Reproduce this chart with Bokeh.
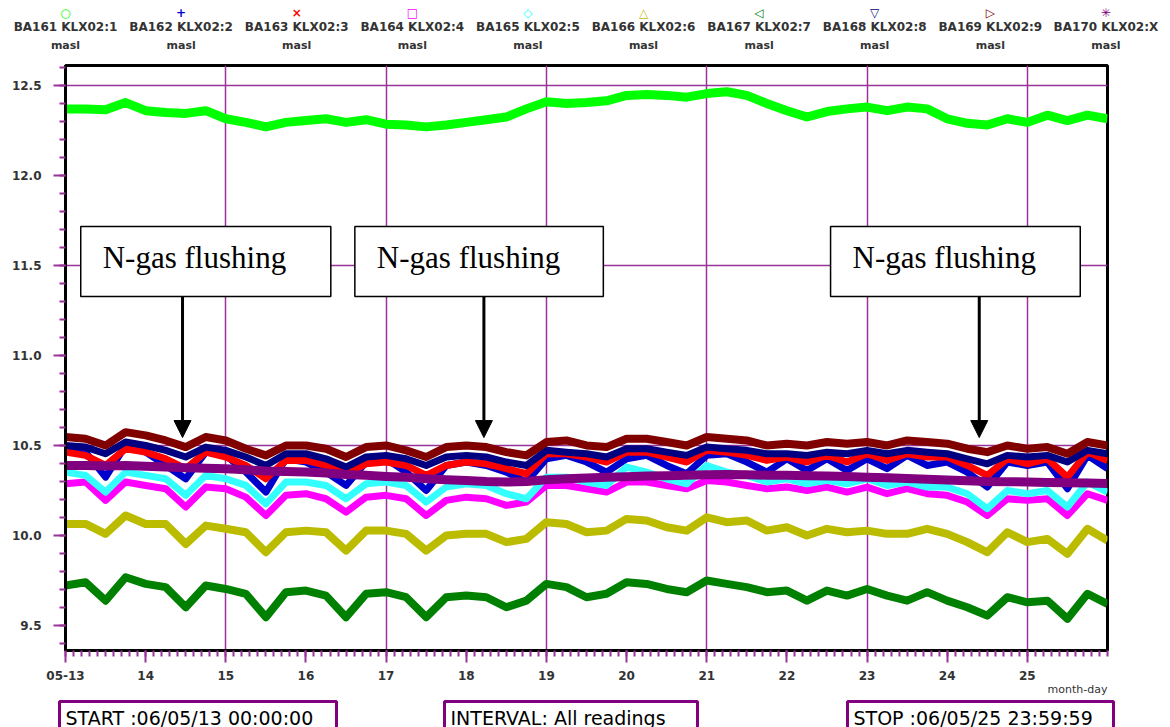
import numpy as np
from bokeh.plotting import figure
from bokeh.layouts import column
from bokeh.models import Range1d, FixedTicker, BoxAnnotation, Label, Arrow, NormalHead
from bokeh.embed import file_html
from bokeh.resources import INLINE

# ---------------- data (day of May 2006, every 6 hours) ----------------
days = list(np.arange(13.0, 26.001, 0.25))

ba161 = [12.37, 12.37, 12.365, 12.405, 12.36, 12.35, 12.345, 12.36, 12.315, 12.295,
         12.27, 12.295, 12.305, 12.315, 12.295, 12.31, 12.285, 12.28, 12.27, 12.28,
         12.295, 12.31, 12.325, 12.37, 12.41, 12.40, 12.405, 12.415, 12.445, 12.45,
         12.445, 12.435, 12.455, 12.465, 12.445, 12.40, 12.36, 12.325, 12.355, 12.37,
         12.38, 12.36, 12.38, 12.37, 12.315, 12.29, 12.28, 12.315, 12.295, 12.335,
         12.305, 12.335, 12.315]
ba162 = [10.491, 10.463, 10.324, 10.500, 10.463, 10.389, 10.315, 10.463, 10.445, 10.352,
         10.241, 10.426, 10.408, 10.352, 10.278, 10.408, 10.426, 10.352, 10.250, 10.389,
         10.408, 10.389, 10.352, 10.297, 10.426, 10.445, 10.408, 10.352, 10.426, 10.445,
         10.389, 10.343, 10.445, 10.454, 10.408, 10.352, 10.426, 10.361, 10.426, 10.361,
         10.426, 10.371, 10.445, 10.389, 10.408, 10.352, 10.269, 10.408, 10.389, 10.408,
         10.260, 10.445, 10.371]
ba163 = [10.463, 10.445, 10.389, 10.482, 10.463, 10.426, 10.371, 10.463, 10.436, 10.389,
         10.315, 10.417, 10.417, 10.389, 10.343, 10.398, 10.408, 10.389, 10.334, 10.389,
         10.408, 10.398, 10.371, 10.343, 10.454, 10.454, 10.436, 10.408, 10.463, 10.463,
         10.436, 10.408, 10.473, 10.463, 10.445, 10.417, 10.436, 10.408, 10.445, 10.408,
         10.454, 10.417, 10.454, 10.436, 10.436, 10.389, 10.334, 10.426, 10.398, 10.426,
         10.324, 10.463, 10.417]
ba164 = [10.287, 10.297, 10.195, 10.297, 10.278, 10.260, 10.158, 10.269, 10.260, 10.213,
         10.111, 10.223, 10.232, 10.204, 10.130, 10.213, 10.223, 10.204, 10.111, 10.195,
         10.213, 10.204, 10.167, 10.186, 10.278, 10.278, 10.260, 10.241, 10.297, 10.297,
         10.278, 10.260, 10.306, 10.297, 10.278, 10.260, 10.269, 10.250, 10.269, 10.241,
         10.269, 10.232, 10.260, 10.232, 10.223, 10.186, 10.111, 10.204, 10.195, 10.204,
         10.111, 10.232, 10.195]
ba165 = [10.352, 10.334, 10.241, 10.352, 10.334, 10.315, 10.223, 10.334, 10.315, 10.278,
         10.176, 10.297, 10.297, 10.278, 10.204, 10.287, 10.297, 10.278, 10.186, 10.269,
         10.287, 10.278, 10.232, 10.204, 10.324, 10.324, 10.297, 10.278, 10.380, 10.352,
         10.315, 10.287, 10.389, 10.352, 10.334, 10.297, 10.315, 10.287, 10.306, 10.287,
         10.315, 10.278, 10.297, 10.269, 10.269, 10.232, 10.149, 10.250, 10.232, 10.250,
         10.158, 10.297, 10.241]
ba166 = [10.064, 10.064, 10.009, 10.111, 10.064, 10.064, 9.953, 10.055, 10.037, 10.018,
         9.907, 10.018, 10.027, 10.018, 9.916, 10.027, 10.027, 10.009, 9.916, 10.000,
         10.009, 10.009, 9.963, 9.981, 10.074, 10.064, 10.018, 10.027, 10.092, 10.083,
         10.046, 10.027, 10.101, 10.074, 10.083, 10.027, 10.046, 10.000, 10.037, 10.018,
         10.027, 10.009, 10.009, 10.037, 10.009, 9.963, 9.907, 10.018, 9.963, 9.981,
         9.898, 10.037, 9.972]
ba167 = [9.722, 9.740, 9.638, 9.768, 9.731, 9.713, 9.601, 9.722, 9.703, 9.676,
         9.546, 9.685, 9.694, 9.666, 9.546, 9.676, 9.685, 9.657, 9.546, 9.657,
         9.666, 9.657, 9.601, 9.638, 9.731, 9.713, 9.657, 9.676, 9.740, 9.731,
         9.703, 9.685, 9.750, 9.731, 9.713, 9.685, 9.694, 9.638, 9.694, 9.666,
         9.703, 9.666, 9.638, 9.685, 9.638, 9.601, 9.555, 9.657, 9.629, 9.638,
         9.537, 9.676, 9.620]
ba168 = [10.500, 10.491, 10.454, 10.519, 10.500, 10.473, 10.436, 10.491, 10.473, 10.436,
         10.389, 10.454, 10.454, 10.426, 10.380, 10.436, 10.445, 10.426, 10.389, 10.436,
         10.445, 10.436, 10.408, 10.389, 10.473, 10.463, 10.454, 10.436, 10.482, 10.482,
         10.463, 10.445, 10.491, 10.482, 10.473, 10.454, 10.454, 10.445, 10.463, 10.454,
         10.473, 10.454, 10.473, 10.463, 10.454, 10.426, 10.398, 10.445, 10.436, 10.445,
         10.408, 10.473, 10.454]
ba169 = [10.547, 10.537, 10.500, 10.574, 10.556, 10.528, 10.491, 10.547, 10.528, 10.482,
         10.445, 10.500, 10.500, 10.482, 10.436, 10.491, 10.500, 10.473, 10.436, 10.491,
         10.500, 10.491, 10.463, 10.445, 10.519, 10.528, 10.500, 10.491, 10.537, 10.537,
         10.519, 10.500, 10.547, 10.537, 10.528, 10.500, 10.510, 10.500, 10.519, 10.510,
         10.519, 10.500, 10.528, 10.519, 10.510, 10.482, 10.463, 10.500, 10.482, 10.491,
         10.454, 10.519, 10.500]
ba170 = [10.389, 10.389, 10.386, 10.389, 10.384, 10.380, 10.376, 10.374, 10.371, 10.365,
         10.358, 10.356, 10.352, 10.347, 10.339, 10.334, 10.328, 10.323, 10.315, 10.310,
         10.306, 10.300, 10.297, 10.300, 10.310, 10.315, 10.319, 10.323, 10.326, 10.330,
         10.332, 10.334, 10.337, 10.339, 10.337, 10.335, 10.334, 10.332, 10.330, 10.328,
         10.324, 10.321, 10.317, 10.313, 10.308, 10.304, 10.300, 10.299, 10.297, 10.295,
         10.293, 10.291, 10.289]

series = [ba161, ba162, ba163, ba164, ba165, ba166, ba167, ba168, ba169, ba170]
names = ["BA161 KLX02:1", "BA162 KLX02:2", "BA163 KLX02:3", "BA164 KLX02:4", "BA165 KLX02:5",
         "BA166 KLX02:6", "BA167 KLX02:7", "BA168 KLX02:8", "BA169 KLX02:9", "BA170 KLX02:X"]
unit = "masl"
colors = ["#00FF00", "#0000CC", "#FF0000", "#FF00FF", "#33FFFF",
          "#BBBB00", "#008000", "#000080", "#800000", "#800080"]
widths = [9, 7, 7, 7, 7, 8, 8, 7, 8, 9]
marker_chars = ["\u25cb", "+", "\u00d7", "\u25a1", "\u25c7", "\u25b3", "\u25c1", "\u25bd", "\u25b7", "\u2733"]

x_tick_days = list(range(13, 26))
x_tick_labels = ["05-13"] + [str(d) for d in range(14, 26)]
y_tick_vals = [9.5, 10.0, 10.5, 11.0, 11.5, 12.0, 12.5]
y_tick_labels = ["9.5", "10.0", "10.5", "11.0", "11.5", "12.0", "12.5"]

flush_text = "N-gas flushing"
flush_left = [13.19, 16.61, 22.545]
flush_right = [16.31, 19.71, 25.66]
flush_top, flush_bottom, flush_mid = 11.717, 11.328, 11.544
arrow_x = [14.46, 18.22, 24.40]
arrow_tip = 10.544

footer_texts = ["START :06/05/13 00:00:00", "INTERVAL: All readings", "STOP :06/05/25 23:59:59"]
footer_left = [59, 444, 847]
footer_right = [336, 697, 1113]

PURPLE = "#993399"
LABEL_FONT = "DejaVu Sans"
W = 1170


def strip(height, y_top, y_bottom):
    f = figure(width=W, height=height, x_range=Range1d(0, W), y_range=Range1d(y_bottom, y_top),
               toolbar_location=None, output_backend="svg", min_border=0,
               x_axis_location=None, y_axis_location=None, outline_line_color=None)
    f.frame_align = False
    f.xgrid.visible = False
    f.ygrid.visible = False
    return f


# ---------------- legend strip (page pixel coordinates) ----------------
leg = strip(60, 0, 60)
for i in range(10):
    lx = 65 + i * 115.6
    leg.add_layout(Label(x=lx, y=12, text=marker_chars[i], text_align="center", text_baseline="middle",
                         text_color=colors[i], text_font=LABEL_FONT, text_font_style="bold",
                         text_font_size="12px"))
    leg.add_layout(Label(x=lx, y=26, text=names[i], text_align="center", text_baseline="middle",
                         text_color="#333333", text_font=LABEL_FONT, text_font_style="bold",
                         text_font_size="12px"))
    leg.add_layout(Label(x=lx, y=45, text=unit, text_align="center", text_baseline="middle",
                         text_color="#333333", text_font=LABEL_FONT, text_font_style="bold",
                         text_font_size="11px"))

# ---------------- main plot ----------------
p = figure(width=W, height=624, x_range=Range1d(13, 26), y_range=Range1d(9.361, 12.611),
           toolbar_location=None, output_backend="svg",
           min_border_left=65, min_border_right=63, min_border_top=5, min_border_bottom=34)
p.frame_align = False
p.outline_line_color = "black"
p.outline_line_width = 3

for s, c, w in zip(series, colors, widths):
    p.line(days, s, line_color=c, line_width=w, line_join="round")

p.xaxis.ticker = FixedTicker(ticks=x_tick_days, minor_ticks=[13 + k * 0.1 for k in range(131)])
p.xaxis.major_label_overrides = {d: t for d, t in zip(x_tick_days, x_tick_labels)}
p.yaxis.ticker = FixedTicker(ticks=y_tick_vals, minor_ticks=[9.4 + k * 0.1 for k in range(33)])
p.yaxis.major_label_overrides = {v: t for v, t in zip(y_tick_vals, y_tick_labels)}

for ax in (p.xaxis, p.yaxis):
    ax.axis_line_color = "black"
    ax.axis_line_width = 3
    ax.major_tick_line_color = PURPLE
    ax.major_tick_line_width = 2
    ax.minor_tick_line_color = PURPLE
    ax.minor_tick_line_width = 2
    ax.major_tick_in = 0
    ax.minor_tick_in = 0
    ax.major_label_text_font = LABEL_FONT
    ax.major_label_text_font_style = "bold"
    ax.major_label_text_font_size = "12px"
    ax.major_label_text_color = "#333333"
p.xaxis.major_tick_out = 12
p.xaxis.minor_tick_out = 6
p.xaxis.major_label_standoff = 8
p.yaxis.major_tick_out = 12
p.yaxis.minor_tick_out = 6
p.yaxis.major_label_standoff = 12

p.xgrid.ticker = FixedTicker(ticks=[15, 17, 19, 21, 23, 25])
p.ygrid.ticker = FixedTicker(ticks=[10.5, 11.5, 12.5])
p.grid.grid_line_color = PURPLE
p.grid.grid_line_width = 1.5

for l, r, ax_x in zip(flush_left, flush_right, arrow_x):
    p.add_layout(BoxAnnotation(left=l, right=r, top=flush_top, bottom=flush_bottom,
                               fill_color="white", fill_alpha=1.0,
                               line_color="black", line_alpha=1.0, line_width=1.5))
    p.add_layout(Label(x=l, y=flush_mid, x_offset=22, text=flush_text,
                       text_font="Liberation Serif", text_font_size="31px",
                       text_baseline="middle", text_color="black"))
    p.add_layout(Arrow(x_start=ax_x, y_start=flush_bottom, x_end=ax_x, y_end=arrow_tip,
                       line_width=3, line_color="black",
                       end=NormalHead(size=17, fill_color="black", line_color="black")))

# ---------------- footer (page pixel coordinates) ----------------
foot = strip(43, 684, 727)
for l, r, t in zip(footer_left, footer_right, footer_texts):
    foot.add_layout(BoxAnnotation(left=l, right=r, top=701, bottom=745,
                                  fill_color="white", fill_alpha=1.0,
                                  line_color="#800080", line_alpha=1.0, line_width=3))
    foot.add_layout(Label(x=l + 6, y=717, text=t, text_baseline="middle",
                          text_font=LABEL_FONT, text_font_size="19px", text_color="black"))
foot.add_layout(Label(x=1107, y=689, text="month-day", text_align="right", text_baseline="middle",
                      text_font=LABEL_FONT, text_font_size="11px", text_color="#333333"))

layout = column(leg, p, foot)
open("out.html", "w").write(file_html(layout, INLINE))
